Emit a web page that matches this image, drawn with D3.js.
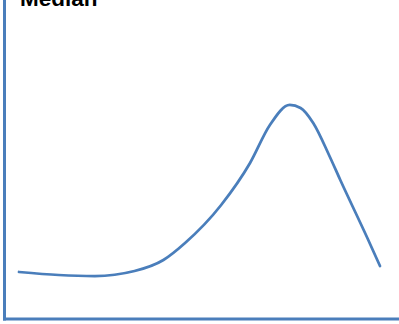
<!DOCTYPE html>
<html>
<head>
<meta charset="utf-8">
<script src="https://cdn.jsdelivr.net/npm/d3@7"></script>
<style>
  html, body { margin: 0; padding: 0; background: #fff; }
  svg { display: block; }
</style>
</head>
<body>
<script>
// Median curve samples (x position along the distribution, median value)
const xValues = [0, 11, 21, 32, 40, 46, 56, 64, 69.5, 75, 78, 81.5, 86, 89, 96.5, 100];
const medianValues = [46, 43, 42, 47, 58, 75, 113, 155, 193, 213, 210, 195, 162, 138, 80, 52];
const title = "Median";

const width = 399, height = 324;
const color = "#4a7ebb";

const svg = d3.select("body").append("svg")
  .attr("width", width)
  .attr("height", height);

const x = d3.scaleLinear().domain([0, 100]).range([19, 380]);
const y = d3.scaleLinear().domain([0, 300]).range([318, 18]);

// Axis lines
svg.append("line")
  .attr("x1", 4.5).attr("x2", 4.5)
  .attr("y1", 0).attr("y2", 320.5)
  .attr("stroke", color).attr("stroke-width", 3);

svg.append("line")
  .attr("x1", 3).attr("x2", width)
  .attr("y1", 319).attr("y2", 319)
  .attr("stroke", color).attr("stroke-width", 3);

// Smoothed median line
const points = xValues.map((d, i) => [d, medianValues[i]]);
const line = d3.line()
  .x(d => x(d[0]))
  .y(d => y(d[1]))
  .curve(d3.curveMonotoneX);

svg.append("path")
  .datum(points)
  .attr("fill", "none")
  .attr("stroke", color)
  .attr("stroke-width", 2.75)
  .attr("stroke-linecap", "round")
  .attr("stroke-linejoin", "round")
  .attr("d", line);

// Title
svg.append("text")
  .attr("x", 20)
  .attr("y", 6)
  .attr("font-family", "Liberation Sans, Arial, sans-serif")
  .attr("font-weight", "bold")
  .attr("font-size", 22.5)
  .attr("fill", "#000")
  .text(title);
</script>
</body>
</html>
